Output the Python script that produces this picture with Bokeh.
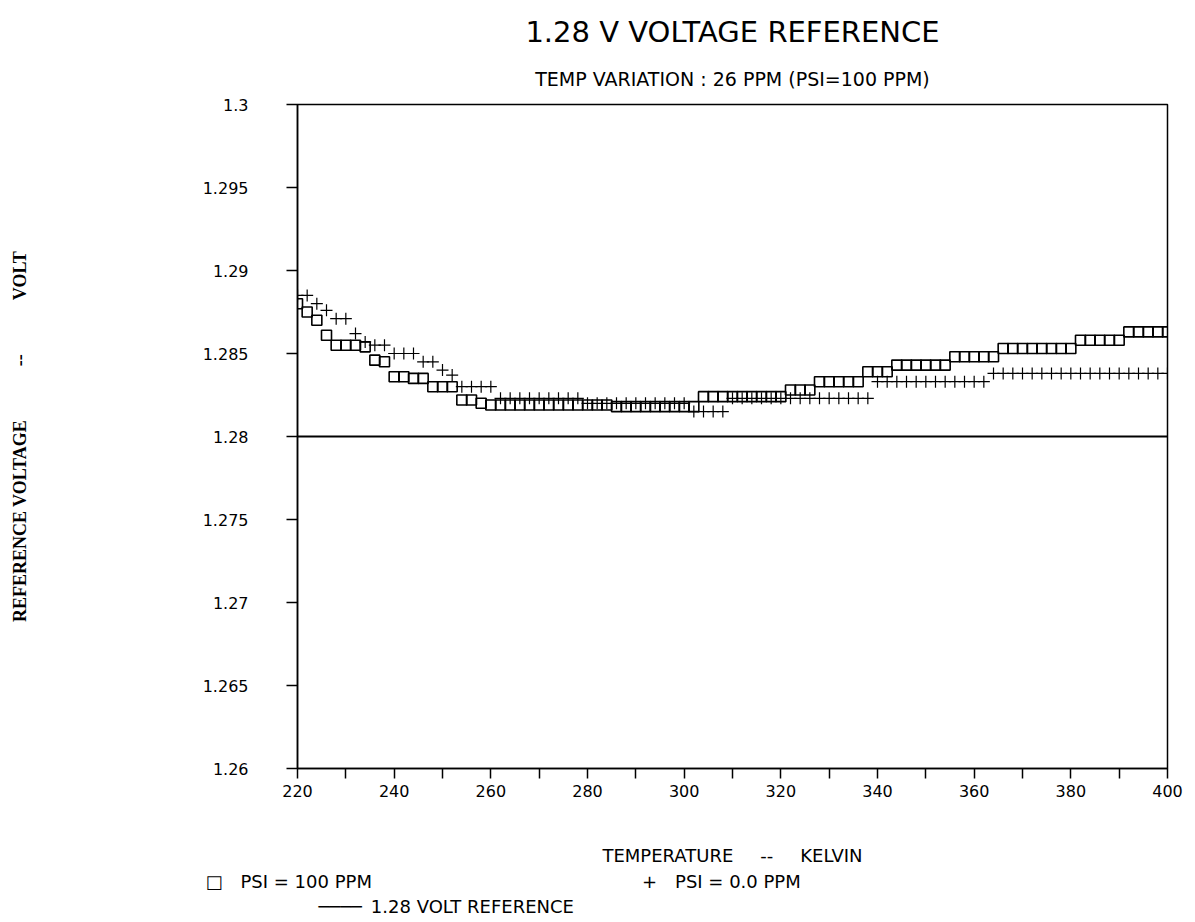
from bokeh.plotting import figure
from bokeh.models import FixedTicker, Title, ColumnDataSource
from bokeh.embed import file_html
from bokeh.resources import INLINE

# ---------------- data ----------------
temperature = [220, 222, 224, 226, 228, 230, 232, 234, 236, 238,
               240, 242, 244, 246, 248, 250, 252, 254, 256, 258,
               260, 262, 264, 266, 268, 270, 272, 274, 276, 278,
               280, 282, 284, 286, 288, 290, 292, 294, 296, 298,
               300, 302, 304, 306, 308, 310, 312, 314, 316, 318,
               320, 322, 324, 326, 328, 330, 332, 334, 336, 338,
               340, 342, 344, 346, 348, 350, 352, 354, 356, 358,
               360, 362, 364, 366, 368, 370, 372, 374, 376, 378,
               380, 382, 384, 386, 388, 390, 392, 394, 396, 398,
               400]

psi_100ppm = [1.2880, 1.2875, 1.2870, 1.2861, 1.2855, 1.2855, 1.2855, 1.2854, 1.2846, 1.2845,
              1.2836, 1.2836, 1.2835, 1.2835, 1.2830, 1.2830, 1.2830, 1.2822, 1.2822, 1.2820,
              1.2819, 1.2819, 1.2819, 1.2819, 1.2819, 1.2819, 1.2819, 1.2819, 1.2819, 1.2819,
              1.2819, 1.2819, 1.2819, 1.2818, 1.2818, 1.2818, 1.2818, 1.2818, 1.2818, 1.2818,
              1.2818, 1.2818, 1.2824, 1.2824, 1.2824, 1.2824, 1.2824, 1.2824, 1.2824, 1.2824,
              1.2824, 1.2828, 1.2828, 1.2828, 1.2833, 1.2833, 1.2833, 1.2833, 1.2833, 1.2839,
              1.2839, 1.2839, 1.2843, 1.2843, 1.2843, 1.2843, 1.2843, 1.2843, 1.2848, 1.2848,
              1.2848, 1.2848, 1.2848, 1.2853, 1.2853, 1.2853, 1.2853, 1.2853, 1.2853, 1.2853,
              1.2853, 1.2858, 1.2858, 1.2858, 1.2858, 1.2858, 1.2863, 1.2863, 1.2863, 1.2863,
              1.2863]

psi_0ppm = [1.2885, 1.2885, 1.2880, 1.2876, 1.2871, 1.2871, 1.2862, 1.2857, 1.2855, 1.2855,
            1.2850, 1.2850, 1.2850, 1.2845, 1.2845, 1.2840, 1.2837, 1.2830, 1.2830, 1.2830,
            1.2830, 1.2823, 1.2823, 1.2823, 1.2823, 1.2823, 1.2823, 1.2823, 1.2823, 1.2823,
            1.2820, 1.2820, 1.2820, 1.2820, 1.2820, 1.2820, 1.2820, 1.2820, 1.2820, 1.2820,
            1.2820, 1.2815, 1.2815, 1.2815, 1.2815, 1.2823, 1.2823, 1.2823, 1.2823, 1.2823,
            1.2823, 1.2823, 1.2823, 1.2823, 1.2823, 1.2823, 1.2823, 1.2823, 1.2823, 1.2823,
            1.2833, 1.2833, 1.2833, 1.2833, 1.2833, 1.2833, 1.2833, 1.2833, 1.2833, 1.2833,
            1.2833, 1.2833, 1.2838, 1.2838, 1.2838, 1.2838, 1.2838, 1.2838, 1.2838, 1.2838,
            1.2838, 1.2838, 1.2838, 1.2838, 1.2838, 1.2838, 1.2838, 1.2838, 1.2838, 1.2838,
            1.2838]

reference_T = [220, 400]
reference_V = [1.28, 1.28]

x_major_ticks = [220, 240, 260, 280, 300, 320, 340, 360, 380, 400]
x_minor_ticks = [230, 250, 270, 290, 310, 330, 350, 370, 390]
y_ticks = [1.26, 1.265, 1.27, 1.275, 1.28, 1.285, 1.29, 1.295, 1.3]
y_tick_labels = ["1.26", "1.265", "1.27", "1.275", "1.28", "1.285", "1.29", "1.295", "1.3"]

EM = "\u2003"
EN = "\u2002"
title_text = "1.28 V VOLTAGE REFERENCE"
subtitle_text = "TEMP VARIATION : 26 PPM (PSI=100 PPM)"
x_label = "TEMPERATURE" + EM + EN + "--" + EM + EN + "KELVIN"
y_label = "REFERENCE VOLTAGE" + EM * 3 + "--" + EM * 3 + "VOLT"
legend_row1 = "\u25a1" + EM + "PSI = 100 PPM" + EM * 15 + "+" + EM + "PSI = 0.0 PPM"
legend_row2 = "\u2500\u2500\u2500\u2500" + EN + "1.28 VOLT REFERENCE"

# ---------------- layout ----------------
W, H = 1195, 922
L, R, T, B = 297, 28, 104, 154
FONT = "DejaVu Sans"

p = figure(width=W, height=H, x_range=(220, 400), y_range=(1.26, 1.3),
           output_backend="svg", toolbar_location=None,
           min_border_left=L, min_border_right=R, min_border_top=T, min_border_bottom=B,
           background_fill_color="white", border_fill_color="white")

p.xgrid.visible = False
p.ygrid.visible = False
p.outline_line_color = "black"
p.outline_line_width = 1.5

# titles (subtitle first -> nearest the frame)
p.add_layout(Title(text=subtitle_text, align="center", text_font=FONT,
                   text_font_size="19px", text_font_style="normal",
                   text_color="black", standoff=29), "above")
p.add_layout(Title(text=title_text, align="center", text_font=FONT,
                   text_font_size="29px", text_font_style="normal",
                   text_color="black", standoff=6), "above")

# x axis
xa = p.xaxis[0]
xa.ticker = FixedTicker(ticks=x_major_ticks, minor_ticks=x_minor_ticks)
xa.major_tick_in = 0
xa.major_tick_out = 10
xa.minor_tick_in = 0
xa.minor_tick_out = 10
xa.major_tick_line_width = 1.5
xa.minor_tick_line_width = 1.5
xa.axis_line_width = 1.5
xa.major_label_text_font = FONT
xa.major_label_text_font_size = "16px"
xa.major_label_text_color = "black"
xa.major_label_standoff = 6
xa.axis_label = x_label
xa.axis_label_text_font = FONT
xa.axis_label_text_font_size = "18px"
xa.axis_label_text_font_style = "normal"
xa.axis_label_text_color = "black"
xa.axis_label_standoff = 45

# y axis
ya = p.yaxis[0]
ya.ticker = FixedTicker(ticks=y_ticks, minor_ticks=[])
ya.major_label_overrides = {t: s for t, s in zip(y_ticks, y_tick_labels)}
ya.major_tick_in = 0
ya.major_tick_out = 11
ya.major_tick_line_width = 1.5
ya.axis_line_width = 1.5
ya.major_label_text_font = FONT
ya.major_label_text_font_size = "16px"
ya.major_label_text_color = "black"
ya.major_label_standoff = 38
ya.axis_label = y_label
ya.axis_label_text_font = "Liberation Serif"
ya.axis_label_text_font_size = "18px"
ya.axis_label_text_font_style = "bold"
ya.axis_label_text_color = "black"
ya.axis_label_standoff = 170

# legend rows below the axis title
p.add_layout(Title(text=legend_row1, align="left", offset=-92, text_font=FONT,
                   text_font_size="18px", text_font_style="normal",
                   text_color="black", standoff=0), "below")
p.add_layout(Title(text=legend_row2, align="left", offset=21, text_font=FONT,
                   text_font_size="18px", text_font_style="normal",
                   text_color="black", standoff=5), "below")

# data
src = ColumnDataSource(dict(T=temperature, v100=psi_100ppm, v0=psi_0ppm))
p.line(reference_T, reference_V, line_color="black", line_width=2)
p.scatter("T", "v0", source=src, marker="cross", size=12,
          line_color="black", line_width=1.2)
p.scatter("T", "v100", source=src, marker="square", size=10,
          fill_alpha=0, line_color="black", line_width=1.6)

open("out.html", "w").write(file_html(p, INLINE))
